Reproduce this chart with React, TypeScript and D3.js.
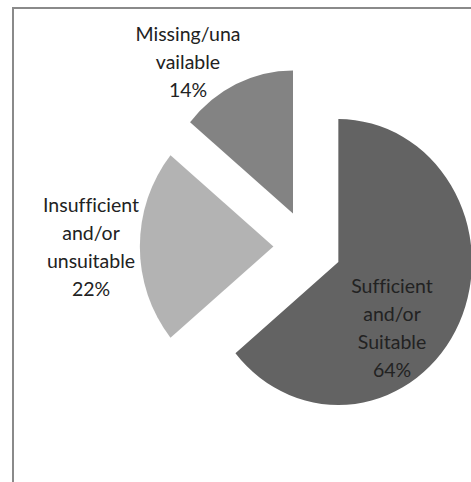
import React from "react";
import * as d3 from "d3";

const categories = ["Sufficient and/or Suitable", "Insufficient and/or unsuitable", "Missing/unavailable"];
const values = [64, 22, 14];
const labelLines = [
  ["Sufficient", "and/or", "Suitable", "64%"],
  ["Insufficient", "and/or", "unsuitable", "22%"],
  ["Missing/una", "vailable", "14%"],
];
const colors = ["#636363", "#b3b3b3", "#838383"];

const W = 471;
const H = 482;
const CX = 307.5;
const CY = 246.5;
const R = 143;
const EXPLODE = 36.5;
const SX = 0.934;
// label block anchors (center x, first baseline y)
const labelPos = [
  [392, 292.5],
  [91, 211.5],
  [188, 40.5],
];
const LINE_H = 28;

export default function App() {
  const pie = d3.pie<number>().sort(null).value((d) => d)(values);
  const arc = d3.arc<d3.PieArcDatum<number>>().innerRadius(0).outerRadius(R);
  return (
    <svg width={W} height={H} style={{ position: "absolute", left: 0, top: 0, background: "#fff" }}>
      <rect x={13} y={8} width={W + 20} height={H + 20} fill="#fff" stroke="#8a8a8a" strokeWidth={2} />
      <g transform={`translate(${CX},${CY}) scale(${SX},1)`}>
        {pie.map((p, i) => {
          const mid = (p.startAngle + p.endAngle) / 2;
          const ox = EXPLODE * Math.sin(mid);
          const oy = -EXPLODE * Math.cos(mid);
          return (
            <path key={categories[i]} d={arc(p) || ""} fill={colors[i]} transform={`translate(${ox},${oy})`} />
          );
        })}
      </g>
      {labelLines.map((lines, i) => (
        <text
          key={i}
          x={labelPos[i][0]}
          y={labelPos[i][1]}
          textAnchor="middle"
          fontFamily="Lato, 'Open Sans', sans-serif"
          fontSize={19.5}
          fill="#222"
          style={{ fontVariantLigatures: "none" }}
        >
          {lines.map((l, j) => (
            <tspan key={j} x={labelPos[i][0]} y={labelPos[i][1] + j * LINE_H}>
              {l}
            </tspan>
          ))}
        </text>
      ))}
    </svg>
  );
}
